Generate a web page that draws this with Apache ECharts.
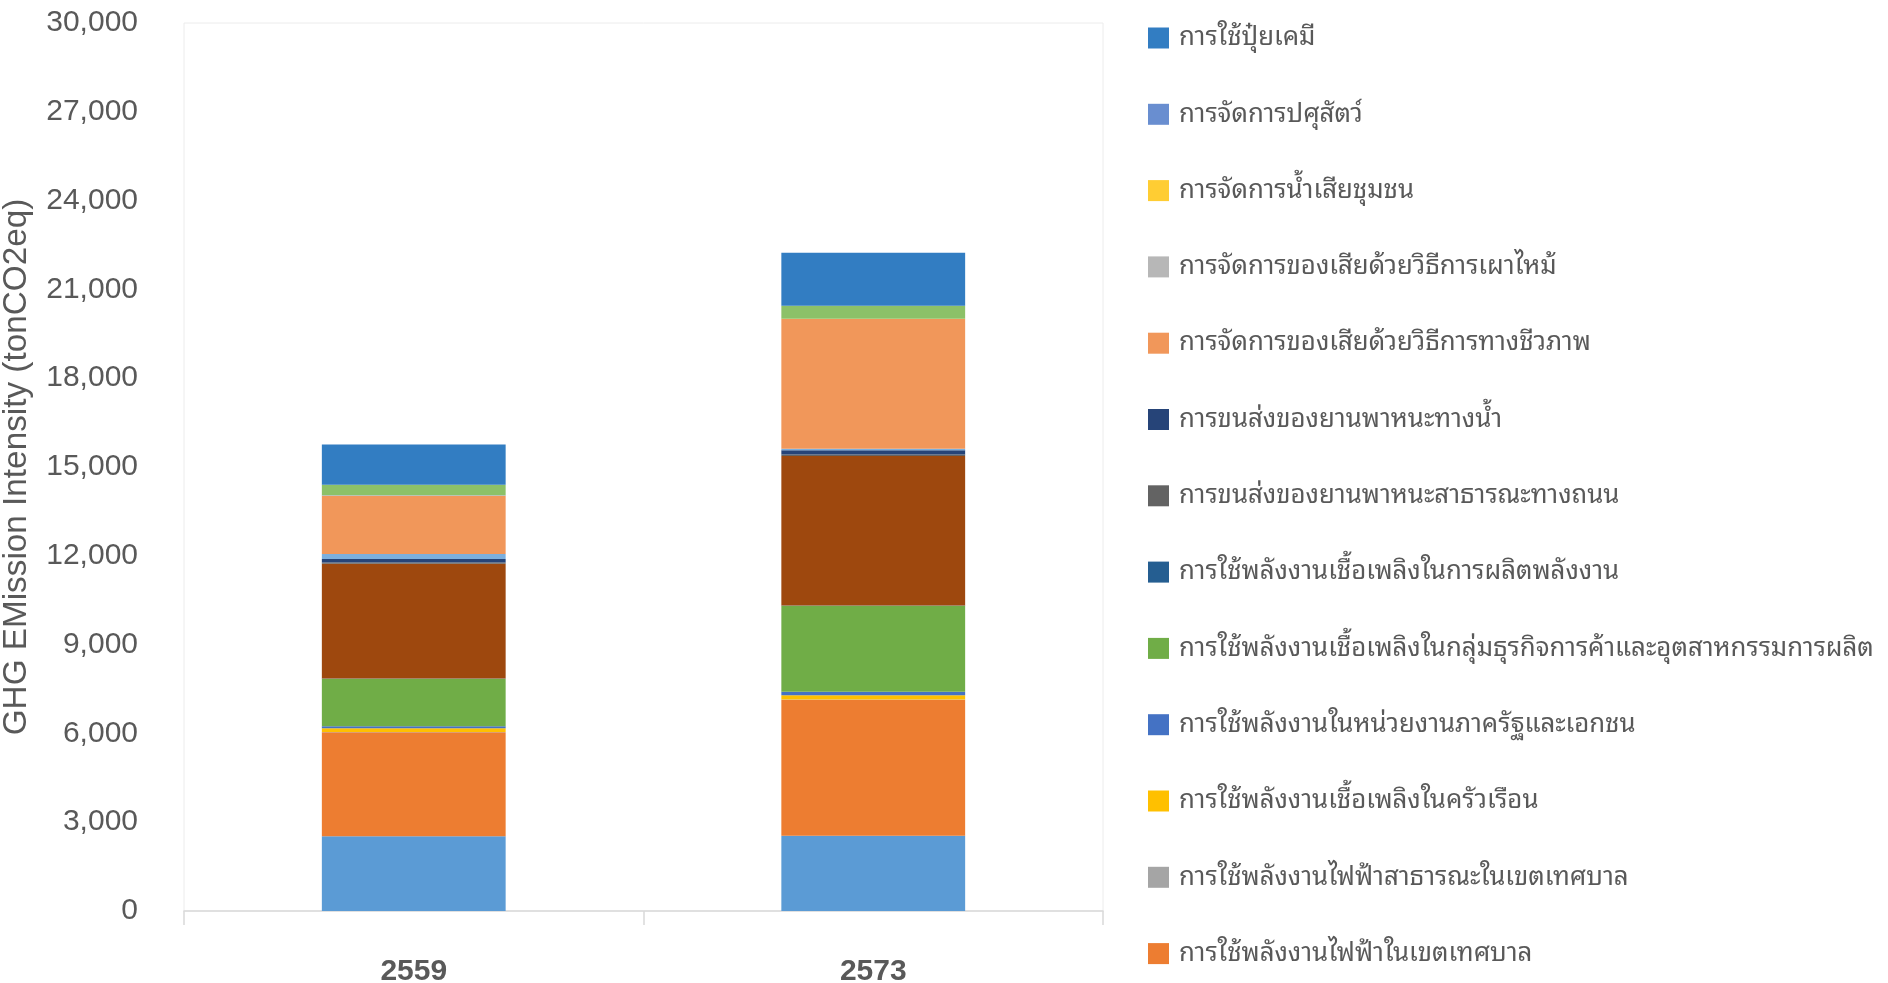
<!DOCTYPE html>
<html>
<head>
<meta charset="utf-8">
<script src="https://cdn.jsdelivr.net/npm/echarts@6/dist/echarts.min.js"></script>
<style>
  html, body { margin: 0; padding: 0; background: #ffffff; }
  #chart { width: 1888px; height: 983px; }
</style>
</head>
<body>
<div id="chart"></div>
<script>
// Years on the category axis
const years = ['2559', '2573'];

// Emission sources, in stacking order (bottom of the bar first)
const seriesNames = [
  'อื่น ๆ (1)',
  'การใช้พลังงานไฟฟ้าในเขตเทศบาล',
  'การใช้พลังงานไฟฟ้าสาธารณะในเขตเทศบาล',
  'การใช้พลังงานเชื้อเพลิงในครัวเรือน',
  'การใช้พลังงานในหน่วยงานภาครัฐและเอกชน',
  'การใช้พลังงานเชื้อเพลิงในกลุ่มธุรกิจการค้าและอุตสาหกรรมการผลิต',
  'การใช้พลังงานเชื้อเพลิงในการผลิตพลังงาน',
  'อื่น ๆ (2)',
  'การขนส่งของยานพาหนะสาธารณะทางถนน',
  'การขนส่งของยานพาหนะทางน้ำ',
  'อื่น ๆ (3)',
  'การจัดการของเสียด้วยวิธีการทางชีวภาพ',
  'การจัดการของเสียด้วยวิธีการเผาไหม้',
  'การจัดการน้ำเสียชุมชน',
  'การจัดการปศุสัตว์',
  'อื่น ๆ (4)',
  'การใช้ปุ๋ยเคมี'
];

// tonCO2eq per source, same order as seriesNames
const values2559 = [2527, 3515, 8, 127, 68, 1601, 10, 3876, 44, 112, 169, 1973, 5, 5, 5, 356, 1362];
const values2573 = [2541, 4596, 10, 145, 111, 2910, 10, 5045, 57, 145, 48, 4379, 5, 5, 5, 438, 1791];

// Legend entries, top to bottom
const legendNames = [
  'การใช้ปุ๋ยเคมี',
  'การจัดการปศุสัตว์',
  'การจัดการน้ำเสียชุมชน',
  'การจัดการของเสียด้วยวิธีการเผาไหม้',
  'การจัดการของเสียด้วยวิธีการทางชีวภาพ',
  'การขนส่งของยานพาหนะทางน้ำ',
  'การขนส่งของยานพาหนะสาธารณะทางถนน',
  'การใช้พลังงานเชื้อเพลิงในการผลิตพลังงาน',
  'การใช้พลังงานเชื้อเพลิงในกลุ่มธุรกิจการค้าและอุตสาหกรรมการผลิต',
  'การใช้พลังงานในหน่วยงานภาครัฐและเอกชน',
  'การใช้พลังงานเชื้อเพลิงในครัวเรือน',
  'การใช้พลังงานไฟฟ้าสาธารณะในเขตเทศบาล',
  'การใช้พลังงานไฟฟ้าในเขตเทศบาล'
];

// Value axis range
const yMin = 0;
const yMax = 30000;
const yStep = 3000;

// Fill colours, one per source
const palette = [
  '#5B9BD5', '#ED7D31', '#A5A5A5', '#FFC000', '#4472C4', '#70AD47', '#255E91',
  '#9E480E', '#636363', '#264478', '#7CAFDD', '#F1975A', '#B7B7B7', '#FFCD33',
  '#698ED0', '#8CC168', '#327DC2'
];

const textGrey = '#595959';
const latin = "'Liberation Sans', Arial, sans-serif";
const thai = "'Noto Sans Thai Looped', 'Noto Sans Thai', 'Noto Sans Thai UI', 'Loma', 'Garuda', 'Noto Sans', sans-serif";

const chart = echarts.init(document.getElementById('chart'), null, { renderer: 'canvas' });

const series = seriesNames.map((name, i) => ({
  name: name,
  type: 'bar',
  stack: 'total',
  barWidth: '40%',
  itemStyle: { color: palette[i] },
  emphasis: { disabled: true },
  data: [values2559[i], values2573[i]]
}));

chart.setOption({
  animation: false,
  backgroundColor: '#ffffff',
  grid: {
    left: 184,
    right: 785,
    top: 23,
    bottom: 72,
    outerBoundsMode: 'none',
    containLabel: false,
    show: true,
    borderColor: '#ECECEC',
    borderWidth: 1,
    backgroundColor: 'transparent'
  },
  legend: {
    orient: 'vertical',
    left: 1148,
    top: 23,
    padding: 0,
    itemWidth: 21,
    itemHeight: 21,
    itemGap: 46.3,
    icon: 'rect',
    selectedMode: false,
    data: legendNames,
    textStyle: {
      fontFamily: thai,
      fontSize: 25.8,
      lineHeight: 30,
      color: textGrey,
      padding: [0, 0, 0, 5]
    }
  },
  xAxis: {
    type: 'category',
    data: years,
    axisLine: { show: true, lineStyle: { color: '#D9D9D9', width: 1.5 } },
    axisTick: { show: true, length: 14, lineStyle: { color: '#D9D9D9', width: 1.5 } },
    axisLabel: {
      margin: 46,
      fontFamily: latin,
      fontSize: 30,
      fontWeight: 'bold',
      color: textGrey
    },
    splitLine: { show: false }
  },
  yAxis: {
    type: 'value',
    min: yMin,
    max: yMax,
    interval: yStep,
    axisLine: { show: false },
    axisTick: { show: false },
    splitLine: { show: false },
    axisLabel: {
      margin: 46,
      fontFamily: latin,
      fontSize: 30,
      color: textGrey,
      formatter: v => v.toLocaleString('en-US')
    }
  },
  graphic: [{
    type: 'text',
    x: 17,
    y: 467,
    rotation: Math.PI / 2,
    style: {
      text: 'GHG EMission Intensity (tonCO2eq)',
      fontFamily: latin,
      fontSize: 33.3,
      fill: textGrey,
      align: 'center',
      verticalAlign: 'middle'
    }
  }],
  series: series
});
</script>
</body>
</html>
